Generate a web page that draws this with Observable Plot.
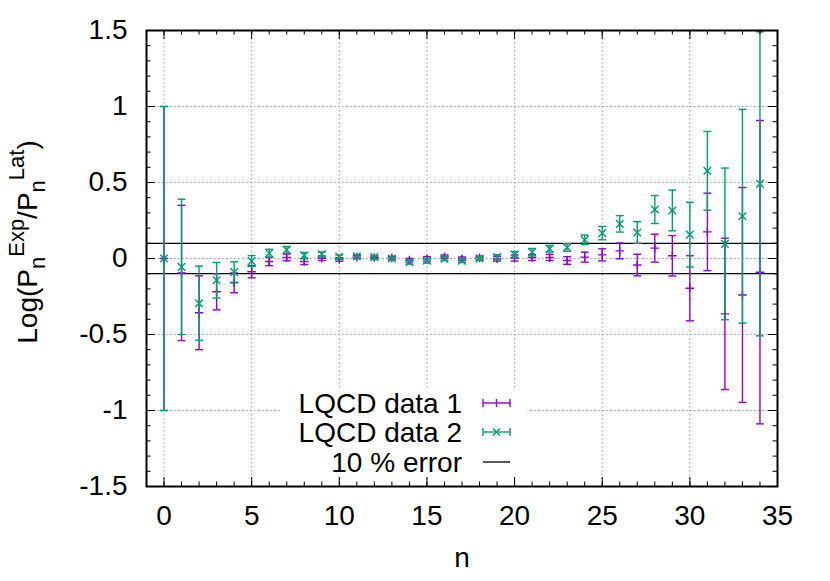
<!DOCTYPE html>
<html>
<head>
<meta charset="utf-8">
<script src="https://cdn.jsdelivr.net/npm/d3@7"></script>
<script src="https://cdn.jsdelivr.net/npm/@observablehq/plot@0.6"></script>
<style>
  html, body { margin: 0; padding: 0; background: #fff; }
  svg { display: block; }
</style>
</head>
<body>
<div id="chart"></div>
<script>
// ---- data ----
const nValues = [0,1,2,3,4,5,6,7,8,9,10,11,12,13,14,15,16,17,18,19,20,21,22,23,24,25,26,27,28,29,30,31,32,33,34];

const data1Values = [0, -0.095, -0.357, -0.219, -0.16, -0.087, -0.02, 0.007, -0.02, 0.002,
  -0.006, 0.009, 0.007, 0.004, -0.011, -0.002, 0.011, -0.002, 0.004, -0.002,
  0.003, 0.007, 0.007, -0.013, 0.009, 0.024, 0.05, -0.043, 0.068, 0.018,
  -0.196, 0.175, -0.364, -0.24, -0.09];
const data1Errors = [1.0, 0.445, 0.243, 0.119, 0.065, 0.04, 0.027, 0.022, 0.02, 0.015,
  0.012, 0.01, 0.01, 0.01, 0.012, 0.015, 0.012, 0.012, 0.012, 0.015,
  0.02, 0.02, 0.02, 0.025, 0.033, 0.04, 0.052, 0.071, 0.092, 0.133,
  0.214, 0.255, 0.498, 0.707, 0.998];

const data2Values = [0, -0.055, -0.294, -0.143, -0.089, -0.017, 0.035, 0.057, 0.02, 0.028,
  0.011, 0.015, 0.009, 0.0, -0.024, -0.015, -0.002, -0.015, 0.0, 0.009,
  0.026, 0.042, 0.064, 0.072, 0.123, 0.167, 0.228, 0.171, 0.322, 0.316,
  0.157, 0.577, 0.096, 0.278, 0.491];
const data2Errors = [1.0, 0.445, 0.244, 0.117, 0.067, 0.036, 0.026, 0.022, 0.02, 0.015,
  0.012, 0.01, 0.01, 0.01, 0.012, 0.015, 0.012, 0.012, 0.012, 0.015,
  0.02, 0.024, 0.022, 0.025, 0.031, 0.044, 0.054, 0.071, 0.092, 0.134,
  0.213, 0.259, 0.499, 0.703, 1.0];

const errorBand = [0.1, -0.1];

const xMajorTicks = [0, 5, 10, 15, 20, 25, 30, 35];
const xMinorTicks = [-1,0,1,2,3,4,5,6,7,8,9,10,11,12,13,14,15,16,17,18,19,20,21,22,23,24,25,26,27,28,29,30,31,32,33,34,35];
const yMajorTicks = [-1.5, -1, -0.5, 0, 0.5, 1, 1.5];
const yMinorTicks = [-1.5,-1.4,-1.3,-1.2,-1.1,-1,-0.9,-0.8,-0.7,-0.6,-0.5,-0.4,-0.3,-0.2,-0.1,0,0.1,0.2,0.3,0.4,0.5,0.6,0.7,0.8,0.9,1,1.1,1.2,1.3,1.4,1.5];

const legendLabels = ["LQCD data 1", "LQCD data 2", "10 % error"];

// ---- styles ----
const purple = "#9400d3";
const green = "#009e73";
const FONT = "'Liberation Sans', Arial, Helvetica, sans-serif";
const FS = 28;

const W = 830, H = 581;
const mL = 146, mR = 53, mT = 30, mB = 95;
const plotW = W - mL - mR, plotH = H - mT - mB;

const d1 = nValues.map((n, i) => ({n, v: data1Values[i], e: data1Errors[i]}));
const d2 = nValues.map((n, i) => ({n, v: data2Values[i], e: data2Errors[i]}));

const capSym = {draw(ctx, size) { const r = Math.sqrt(size / Math.PI); ctx.moveTo(-r, 0); ctx.lineTo(r, 0); }};
const plusSym = {draw(ctx, size) { const r = Math.sqrt(size / Math.PI); ctx.moveTo(-r, 0); ctx.lineTo(r, 0); ctx.moveTo(0, -r); ctx.lineTo(0, r); }};
const timesSym = {draw(ctx, size) { const r = Math.sqrt(size / Math.PI); ctx.moveTo(-r, -r); ctx.lineTo(r, r); ctx.moveTo(-r, r); ctx.lineTo(r, -r); }};

function seriesMarks(data, color, sym, symR) {
  return [
    Plot.ruleX(data, {x: "n", y1: d => d.v - d.e, y2: d => d.v + d.e, stroke: color, strokeWidth: 1.4, clip: true}),
    Plot.dot(data, {x: "n", y: d => d.v - d.e, symbol: capSym, r: 4, fill: "none", stroke: color, strokeWidth: 1.4, clip: true}),
    Plot.dot(data, {x: "n", y: d => d.v + d.e, symbol: capSym, r: 4, fill: "none", stroke: color, strokeWidth: 1.4, clip: true}),
    Plot.dot(data, {x: "n", y: "v", symbol: sym, r: symR, fill: "none", stroke: color, strokeWidth: 1.4, clip: true})
  ];
}

const majLen = 9, minLen = 4.5;

const chart = Plot.plot({
  width: W, height: H,
  marginLeft: mL, marginRight: mR, marginTop: mT, marginBottom: mB,
  style: {fontFamily: FONT, fontSize: FS + "px", background: "#fff", overflow: "visible"},
  x: {domain: [-1, 35], axis: null},
  y: {domain: [-1.5, 1.5], axis: null},
  marks: [
    Plot.gridX(xMajorTicks, {stroke: "#a0a0a0", strokeOpacity: 1, strokeWidth: 1, strokeDasharray: "1.5,2.5"}),
    Plot.gridY(yMajorTicks, {stroke: "#a0a0a0", strokeOpacity: 1, strokeWidth: 1, strokeDasharray: "1.5,2.5"}),
    Plot.ruleY(errorBand, {stroke: "#000", strokeWidth: 1.3}),
    ...seriesMarks(d1, purple, plusSym, 4.3),
    ...seriesMarks(d2, green, timesSym, 3.8),
    // ticks (inward, mirrored)
    Plot.tickX(xMinorTicks, {x: d => d, insetTop: plotH - minLen, stroke: "#000", strokeWidth: 1}),
    Plot.tickX(xMinorTicks, {x: d => d, insetBottom: plotH - minLen, stroke: "#000", strokeWidth: 1}),
    Plot.tickX(xMajorTicks, {x: d => d, insetTop: plotH - majLen, stroke: "#000", strokeWidth: 1}),
    Plot.tickX(xMajorTicks, {x: d => d, insetBottom: plotH - majLen, stroke: "#000", strokeWidth: 1}),
    Plot.tickY(yMinorTicks, {y: d => d, insetRight: plotW - minLen, stroke: "#000", strokeWidth: 1}),
    Plot.tickY(yMinorTicks, {y: d => d, insetLeft: plotW - minLen, stroke: "#000", strokeWidth: 1}),
    Plot.tickY(yMajorTicks, {y: d => d, insetRight: plotW - majLen, stroke: "#000", strokeWidth: 1}),
    Plot.tickY(yMajorTicks, {y: d => d, insetLeft: plotW - majLen, stroke: "#000", strokeWidth: 1}),
    Plot.frame({stroke: "#000", strokeWidth: 2}),
    // tick labels
    Plot.text(xMajorTicks, {x: d => d, frameAnchor: "bottom", dy: 30, text: d => String(d), fill: "#000", fontSize: FS, lineAnchor: "middle"}),
    Plot.text(yMajorTicks, {y: d => d, frameAnchor: "left", dx: -19, text: d => String(d), textAnchor: "end", fill: "#000", fontSize: FS, lineAnchor: "middle"}),
    Plot.text(["n"], {frameAnchor: "bottom", dy: 72, text: d => d, fill: "#000", fontSize: FS, lineAnchor: "middle"})
  ]
});

document.getElementById("chart").appendChild(chart);

// ---- y axis title with sub/superscripts ----
const svg = d3.select(chart);
const title = svg.append("text")
  .attr("transform", `translate(37, ${mT + 212}) rotate(-90)`)
  .attr("text-anchor", "middle")
  .attr("font-family", FONT)
  .attr("font-size", FS)
  .attr("fill", "#000");
const sfs = Math.round(FS * 0.8);
title.append("tspan").text("Log(P");
title.append("tspan").attr("font-size", sfs).attr("dy", 8).text("n");
title.append("tspan").attr("font-size", sfs).attr("dy", -21).text("Exp");
title.append("tspan").attr("dy", 13).text("/P");
title.append("tspan").attr("font-size", sfs).attr("dy", 8).text("n");
title.append("tspan").attr("font-size", sfs).attr("dy", -21).text("Lat");
title.append("tspan").attr("dy", 13).text(")");

// ---- legend (opaque key box) ----
const lg = svg.append("g").attr("font-family", FONT).attr("font-size", FS);
lg.append("rect").attr("x", 280).attr("y", 390).attr("width", 247).attr("height", 87).attr("fill", "#fff");
const rows = [403, 432, 462];
const sx1 = 483, sx2 = 510, sxm = (sx1 + sx2) / 2;
legendLabels.forEach((lab, i) => {
  lg.append("text").attr("x", 462).attr("y", rows[i]).attr("dy", "0.36em").attr("text-anchor", "end").attr("fill", "#000").text(lab);
});
[[purple, "plus"], [green, "times"]].forEach(([c, kind], i) => {
  const y = rows[i];
  const g = lg.append("g").attr("stroke", c).attr("stroke-width", 1.4).attr("fill", "none");
  g.append("line").attr("x1", sx1).attr("x2", sx2).attr("y1", y).attr("y2", y);
  g.append("line").attr("x1", sx1).attr("x2", sx1).attr("y1", y - 4).attr("y2", y + 4);
  g.append("line").attr("x1", sx2).attr("x2", sx2).attr("y1", y - 4).attr("y2", y + 4);
  if (kind === "plus") {
    g.append("line").attr("x1", sxm).attr("x2", sxm).attr("y1", y - 4).attr("y2", y + 4);
  } else {
    g.append("path").attr("d", `M${sxm-3.6},${y-3.6}L${sxm+3.6},${y+3.6}M${sxm-3.6},${y+3.6}L${sxm+3.6},${y-3.6}`);
  }
});
lg.append("line").attr("x1", sx1).attr("x2", sx2).attr("y1", rows[2]).attr("y2", rows[2]).attr("stroke", "#000").attr("stroke-width", 1.3);
</script>
</body>
</html>
